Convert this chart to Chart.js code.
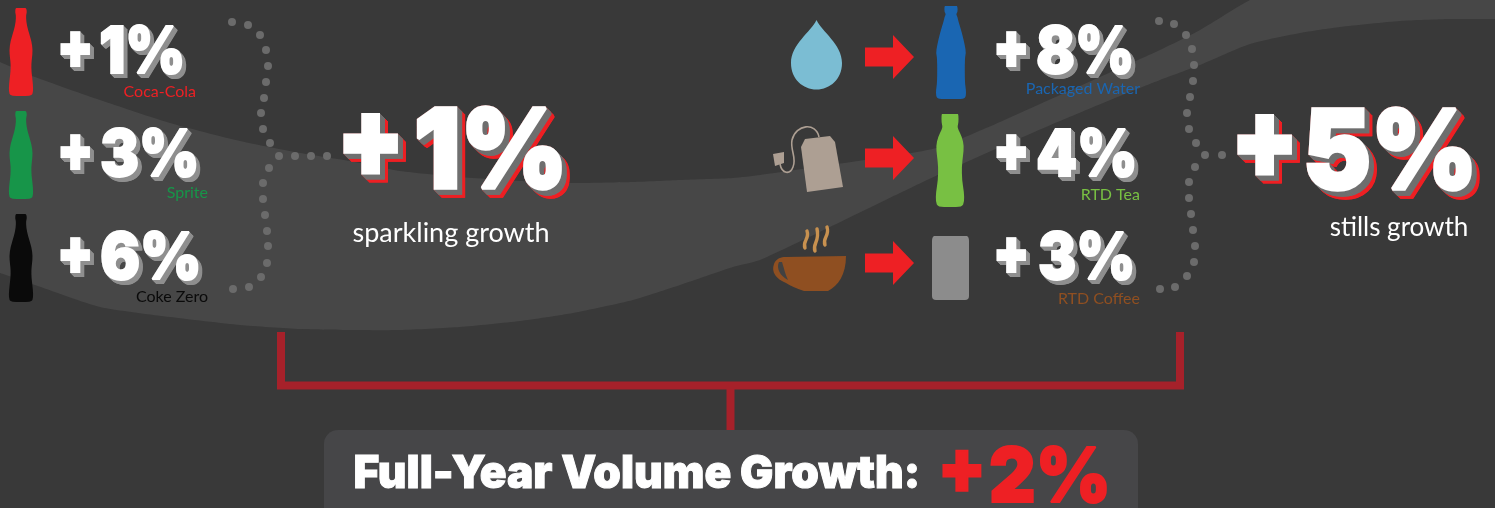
<!DOCTYPE html>
<html>
<head>
<meta charset="utf-8">
<title>Full-Year Volume Growth</title>
<script src="https://cdn.jsdelivr.net/npm/chart.js@4"></script>
<style>
  html, body { margin: 0; padding: 0; background: #393939; overflow: hidden; }
  canvas { display: block; }
</style>
</head>
<body>
<canvas id="chart" width="1495" height="508"></canvas>
<script>
// values
const categories = ["Coca-Cola", "Sprite", "Coke Zero", "Packaged Water", "RTD Tea", "RTD Coffee"];
const growth = [1, 3, 6, 8, 4, 3];
const groupLabels = ["sparkling growth", "stills growth"];
const groupGrowth = [1, 5];
const totalLabel = "Full-Year Volume Growth:";
const totalGrowth = 2;

// the ribbon behind everything
const ribbonX = [0, 35, 100, 170, 240, 300, 350, 400, 460, 520, 573, 633, 680, 733, 760, 830, 900, 940, 1000, 1060, 1120, 1160, 1200, 1250, 1300, 1340, 1400, 1450, 1495];
const ribbonTop = [62, 77, 100, 123, 141, 153, 161, 171, 177, 181, 183, 182, 180, 178, 175, 165, 155, 147, 122, 95, 68, 50, 30, 0, -20, -30, -40, -40, -40];
const ribbonBottom = [273, 285, 307, 317, 325, 329, 330, 330, 327, 321, 313, 300, 285, 267, 260, 227, 193, 174, 147, 121, 96, 80, 65, 44, 33, 27, 21, 19, 19];

// dotted brackets
const leftDots = [[232,22],[248,25],[260,35],[266,50],[268,66],[266,82],[264,98],[261,113],[263,129],[270,143],[279,156],[295,156],[311,156],[327,156],[269,168],[263,183],[263,199],[265,215],[267,231],[268,246],[267,263],[261,277],[249,287],[233,289]];
const rightDots = [[1159,21],[1174,24],[1186,35],[1192,49],[1194,65],[1193,81],[1190,97],[1187,113],[1189,129],[1196,143],[1205,155],[1222,155],[1195,167],[1189,182],[1189,198],[1191,214],[1193,230],[1195,246],[1194,262],[1187,276],[1175,287],[1160,289]];

// layout of the labels, one entry per category
const plusLeft = [60, 60, 60, 996, 996, 996];
const digitLeft = [100, 101, 101, 1037, 1037, 1039];
const digitRight = [183, 197, 199, 1132, 1135, 1133];
const rowBase = [74, 177, 280, 74, 177, 280];
const nameRight = [196, 208, 208, 1140, 1140, 1140];
const nameBase = [97, 198, 302, 94, 200, 304];
const nameColors = ["#ee2024", "#179549", "#0a0a0a", "#1a66b2", "#78c043", "#8f4f21"];

function makeIcon(x0, y0, w, h, draw) {
    let can = document.createElement("canvas");
    can.width = w;
    can.height = h;
    let c = can.getContext("2d");
    c.translate(-x0, -y0);
    draw(c);
    return { can: can, x: x0 + w / 2, y: y0 + h / 2 };
}

// symmetric outline, smoothed through the midpoints
function bottle(c, cx, top, color, profile) {
    let pts = profile.map(p => [cx + p[0], top + p[1]]);
    let back = profile.slice().reverse().map(p => [cx - p[0], top + p[1]]);
    let all = pts.concat(back);
    c.fillStyle = color;
    c.beginPath();
    c.moveTo(all[0][0], all[0][1]);
    for (let i = 1; i < all.length - 1; i++) {
        let mx = (all[i][0] + all[i + 1][0]) / 2;
        let my = (all[i][1] + all[i + 1][1]) / 2;
        c.quadraticCurveTo(all[i][0], all[i][1], mx, my);
    }
    c.lineTo(all[all.length - 1][0], all[all.length - 1][1]);
    c.closePath();
    c.fill();
}

const cokeShape = [[4.5,0],[5.6,0.5],[5.8,5],[5,7],[5.3,14],[7,22],[10.5,33],[11.7,42],[11,50],[10.3,56],[10.5,64],[11.5,72],[12.2,80],[11.8,86],[9,88],[0,88]];
const waterShape = [[6,0],[6.6,1],[6.6,6],[5,8],[6.5,11],[7,14],[11,27],[14,40],[15,47],[13.8,52],[13.8,76],[15,84],[15,90],[13,93],[0,93]];
const teaShape = [[8,0],[8.5,1],[8.5,9],[7.5,12],[8,15],[12,23],[14,32],[13,42],[11.8,52],[12,66],[14,78],[14.3,88],[12,93],[0,93]];

const icons = [
    makeIcon(0, 0, 44, 100, c => bottle(c, 21, 8, nameColors[0], cokeShape)),
    makeIcon(0, 105, 44, 100, c => bottle(c, 21, 111, nameColors[1], cokeShape)),
    makeIcon(0, 208, 44, 100, c => bottle(c, 21, 214, nameColors[2], cokeShape)),
    makeIcon(930, 0, 42, 104, c => bottle(c, 951, 6, nameColors[3], waterShape)),
    makeIcon(930, 110, 40, 102, c => bottle(c, 950, 114, nameColors[4], teaShape)),
    // can
    makeIcon(928, 230, 46, 74, c => {
        c.fillStyle = "#8c8c8c";
        c.beginPath();
        c.moveTo(934, 236);
        c.lineTo(967, 236);
        c.quadraticCurveTo(969, 237, 969, 241);
        c.lineTo(969, 296);
        c.quadraticCurveTo(969, 300, 965, 300);
        c.lineTo(936, 300);
        c.quadraticCurveTo(932, 300, 932, 296);
        c.lineTo(932, 241);
        c.quadraticCurveTo(932, 237, 934, 236);
        c.fill();
    }),
    // drop
    makeIcon(786, 16, 60, 78, c => {
        c.fillStyle = "#7bbdd3";
        c.beginPath();
        c.moveTo(816.5, 20);
        c.bezierCurveTo(822, 32, 842, 44, 842, 63);
        c.bezierCurveTo(842, 79, 830, 89.5, 816.5, 89.5);
        c.bezierCurveTo(803, 89.5, 791, 79, 791, 63);
        c.bezierCurveTo(791, 44, 811, 32, 816.5, 20);
        c.fill();
    }),
    // tea bag
    makeIcon(768, 120, 80, 76, c => {
        c.fillStyle = "#ad9f93";
        c.strokeStyle = "#ad9f93";
        c.beginPath();
        c.moveTo(805, 139);
        c.lineTo(830, 136);
        c.lineTo(835, 142);
        c.lineTo(843, 187);
        c.lineTo(807, 192);
        c.lineTo(801, 147);
        c.closePath();
        c.fill();
        c.lineWidth = 1.6;
        c.beginPath();
        c.moveTo(819, 137);
        c.bezierCurveTo(816, 122, 796, 124, 792, 140);
        c.bezierCurveTo(790, 150, 797, 158, 793, 167);
        c.bezierCurveTo(790, 175, 782, 174, 780, 164);
        c.stroke();
        c.beginPath();
        c.moveTo(773, 154);
        c.lineTo(784, 152);
        c.lineTo(784, 163);
        c.lineTo(775, 166);
        c.closePath();
        c.fill();
    }),
    // coffee cup with steam
    makeIcon(770, 220, 80, 75, c => {
        c.fillStyle = "#8f4f21";
        c.beginPath();
        c.moveTo(846, 256);
        c.bezierCurveTo(846, 275, 838, 286, 828, 291);
        c.lineTo(804, 291);
        c.bezierCurveTo(796, 288, 790, 286, 786, 283);
        c.bezierCurveTo(776, 279, 771, 272, 774, 264);
        c.bezierCurveTo(776, 258, 782, 257, 785, 257);
        c.closePath();
        c.fill();
        c.fillStyle = "#414141";
        c.beginPath();
        c.moveTo(779, 262);
        c.bezierCurveTo(776, 268, 780, 276, 788, 280);
        c.bezierCurveTo(785, 274, 784, 268, 782, 262);
        c.closePath();
        c.fill();
        c.strokeStyle = "#c8914f";
        c.lineWidth = 3.4;
        c.lineCap = "round";
        [[806, 248, 3], [816, 251, 8], [826, 245, 4]].forEach(s => {
            c.beginPath();
            c.moveTo(s[0] - 1, s[1]);
            c.bezierCurveTo(s[0] - 4, s[1] - 7, s[0] + 4, s[1] - 9, s[0] + 1, s[1] - 14 - s[2]);
            c.stroke();
        });
    })
];

function arrowIcon(cy) {
    return makeIcon(862, cy - 26, 56, 52, c => {
        c.fillStyle = "#ee2024";
        c.beginPath();
        c.moveTo(865, cy - 9.5);
        c.lineTo(893, cy - 9.5);
        c.lineTo(893, cy - 22);
        c.lineTo(914, cy);
        c.lineTo(893, cy + 22);
        c.lineTo(893, cy + 9.5);
        c.lineTo(865, cy + 9.5);
        c.closePath();
        c.fill();
    });
}
[57, 158, 263].forEach(cy => icons.push(arrowIcon(cy)));

// text stacked into a block: each layer is repeated down to the right,
// the stroke makes the face heavier than Inter's own black weight
function blockText(c, text, x, y, width, size, weight, layers) {
    c.save();
    c.font = "900 " + size + "px Inter, Roboto, sans-serif";
    c.textAlign = "left";
    c.textBaseline = "alphabetic";
    c.lineJoin = "miter";
    c.miterLimit = 2;
    c.lineWidth = weight;
    let m = c.measureText(text);
    let sx = (width - weight) / (m.actualBoundingBoxRight + m.actualBoundingBoxLeft);
    c.translate(x + weight / 2 + m.actualBoundingBoxLeft * sx, y - weight / 2);
    c.scale(sx, 1);
    layers.forEach(l => {
        c.fillStyle = l.color;
        c.strokeStyle = l.color;
        for (let d = l.depth; d >= 0; d -= 0.5) {
            c.fillText(text, d / sx, d);
            c.strokeText(text, d / sx, d);
        }
    });
    c.restore();
}

const labelPlugin = {
    id: "labels",
    beforeDatasetsDraw(chart) {
        let c = chart.ctx, sx = chart.scales.x, sy = chart.scales.y;
        // total box
        c.fillStyle = "#464648";
        c.beginPath();
        c.roundRect(sx.getPixelForValue(324), sy.getPixelForValue(430), 814, 100, 14);
        c.fill();
    },
    afterDatasetsDraw(chart) {
        let c = chart.ctx, sx = chart.scales.x, sy = chart.scales.y;
        let small = [{ color: "#8f8f8f", depth: 4 }, { color: "#ffffff", depth: 0 }];
        categories.forEach((name, i) => {
            let base = sy.getPixelForValue(rowBase[i]);
            blockText(c, "+", sx.getPixelForValue(plusLeft[i]), base - 5, 30, 64, 2, small);
            blockText(c, growth[i] + "%", sx.getPixelForValue(digitLeft[i]), base, digitRight[i] - digitLeft[i], 64, 2, small);
            c.font = "16px Lato, 'Noto Sans', sans-serif";
            c.textAlign = "right";
            c.fillStyle = nameColors[i];
            c.fillText(name, sx.getPixelForValue(nameRight[i]), sy.getPixelForValue(nameBase[i]));
        });
        let big = [{ color: "#ee2024", depth: 8 }, { color: "#6f6f6f", depth: 5 }, { color: "#ffffff", depth: 0 }];
        blockText(c, "+", sx.getPixelForValue(343), sy.getPixelForValue(178), 56, 110, 3.5, big);
        blockText(c, groupGrowth[0] + "%", sx.getPixelForValue(416), sy.getPixelForValue(190), 146, 110, 3.5, big);
        blockText(c, "+", sx.getPixelForValue(1237), sy.getPixelForValue(179), 56, 110, 3.5, big);
        blockText(c, groupGrowth[1] + "%", sx.getPixelForValue(1306), sy.getPixelForValue(191), 166, 110, 3.5, big);
        c.font = "27px Lato, 'Noto Sans', sans-serif";
        c.fillStyle = "#ffffff";
        c.textAlign = "center";
        c.fillText(groupLabels[0], sx.getPixelForValue(451), sy.getPixelForValue(242));
        c.font = "26px Lato, 'Noto Sans', sans-serif";
        c.fillText(groupLabels[1], sx.getPixelForValue(1399), sy.getPixelForValue(236));
        blockText(c, totalLabel, sx.getPixelForValue(355), sy.getPixelForValue(488), 562, 45, 1, [{ color: "#ffffff", depth: 0 }]);
        blockText(c, "+", sx.getPixelForValue(942), sy.getPixelForValue(494), 40, 76, 2, [{ color: "#ee2024", depth: 0 }]);
        blockText(c, totalGrowth + "%", sx.getPixelForValue(990), sy.getPixelForValue(503), 117, 76, 2, [{ color: "#ee2024", depth: 0 }]);
    }
};

function ribbonData(ys) {
    return ribbonX.map((x, i) => ({ x: x, y: ys[i] }));
}
function dotData(list) {
    return list.map(p => ({ x: p[0], y: p[1] }));
}

const datasets = [
    { data: ribbonData(ribbonTop), showLine: true, fill: "+1", backgroundColor: "#474747", borderWidth: 0, pointRadius: 0, tension: 0.2, order: 20 },
    { data: ribbonData(ribbonBottom), showLine: true, fill: false, borderWidth: 0, pointRadius: 0, tension: 0.2, order: 21 },
    { data: dotData(leftDots), backgroundColor: "#6b6b6b", pointRadius: 4, borderWidth: 0, order: 5 },
    { data: dotData(rightDots), backgroundColor: "#6b6b6b", pointRadius: 4, borderWidth: 0, order: 5 },
    { data: [{ x: 281, y: 332 }, { x: 281, y: 385.5 }, { x: 1180, y: 385.5 }, { x: 1180, y: 332 }], showLine: true, borderColor: "#a6212a", borderWidth: 8, borderJoinStyle: "miter", pointRadius: 0, tension: 0, order: 4 },
    { data: [{ x: 730.5, y: 385 }, { x: 730.5, y: 430 }], showLine: true, borderColor: "#a6212a", borderWidth: 8, pointRadius: 0, order: 4 },
    { data: icons.map(i => ({ x: i.x, y: i.y })), pointStyle: icons.map(i => i.can), pointRadius: 10, order: 1 }
];

new Chart(document.getElementById("chart").getContext("2d"), {
    type: "scatter",
    data: { datasets: datasets },
    options: {
        responsive: false,
        animation: false,
        layout: { padding: 0, autoPadding: false },
        plugins: { legend: { display: false }, tooltip: { enabled: false } },
        scales: {
            x: { type: "linear", min: 0, max: 1495, display: false },
            y: { type: "linear", min: 0, max: 508, reverse: true, display: false }
        }
    },
    plugins: [labelPlugin]
});
</script>
</body>
</html>
